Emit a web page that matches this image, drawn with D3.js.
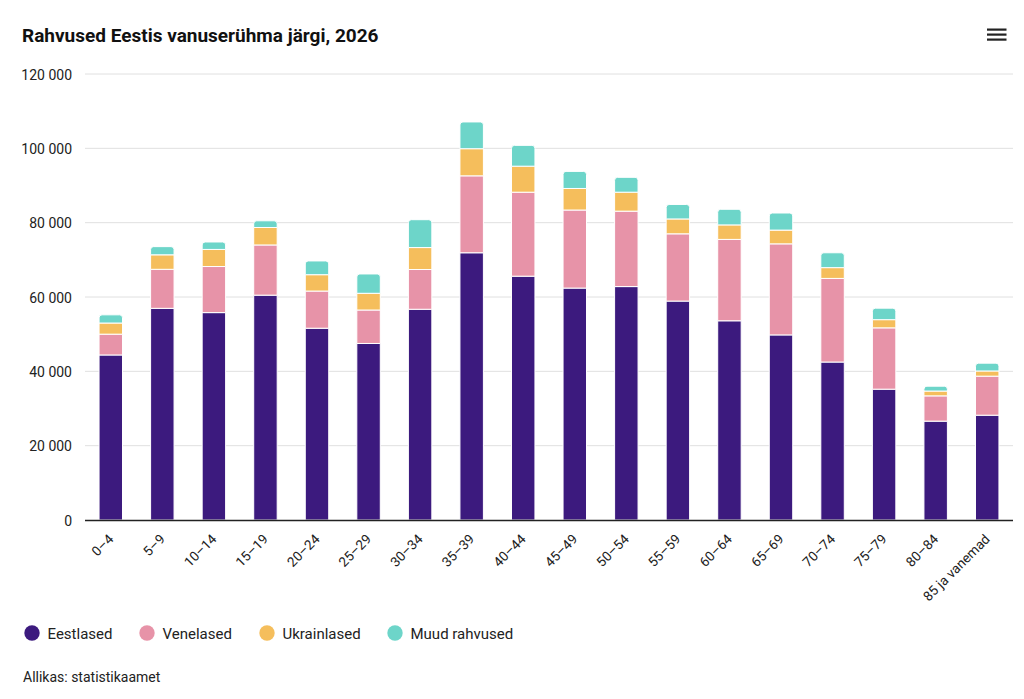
<!DOCTYPE html>
<html>
<head>
<meta charset="utf-8">
<script src="https://cdn.jsdelivr.net/npm/d3@7"></script>
<style>
  body { margin: 0; background: #fff; font-family: Roboto, "Noto Sans", sans-serif; }
  svg { display: block; }
</style>
</head>
<body>
<svg id="chart" width="1024" height="699"></svg>
<script>
// Data (people)
const ageGroups = ['0–4', '5–9', '10–14', '15–19', '20–24', '25–29', '30–34', '35–39', '40–44',
  '45–49', '50–54', '55–59', '60–64', '65–69', '70–74', '75–79', '80–84', '85 ja vanemad'];
const seriesNames = ['Eestlased', 'Venelased', 'Ukrainlased', 'Muud rahvused'];
const colors = ['#3c1a7e', '#e793a8', '#f5be5c', '#6dd5c9'];

const eestlased   = [44400, 56950, 55800, 60500, 51600, 47500, 56700, 71900, 65600, 62400, 62800, 58900, 53600, 49800, 42500, 35200, 26600, 28200];
const venelased   = [5600, 10500, 12400, 13500, 10000, 9000, 10700, 20700, 22600, 21000, 20300, 18100, 21900, 24500, 22500, 16500, 6800, 10500];
const ukrainlased = [3000, 3900, 4600, 4700, 4400, 4500, 5900, 7300, 7000, 5800, 5100, 4000, 3900, 3700, 2900, 2200, 1300, 1400];
const muud        = [2200, 2200, 2000, 1800, 3700, 5200, 7500, 7200, 5600, 4600, 4000, 3900, 4200, 4600, 4000, 3100, 1300, 2100];
const yTicks = [0, 20000, 40000, 60000, 80000, 100000, 120000];

const rows = ageGroups.map((g, i) => ({
  group: g,
  'Eestlased': eestlased[i],
  'Venelased': venelased[i],
  'Ukrainlased': ukrainlased[i],
  'Muud rahvused': muud[i]
}));

const svg = d3.select('#chart');
const margin = { left: 85, right: 11, top: 74, bottom: 179 };
const width = 1024 - margin.left - margin.right;
const height = 699 - margin.top - margin.bottom;

const x = d3.scaleBand().domain(ageGroups).range([0, width]).paddingInner(0.545).paddingOuter(0.2725);
const y = d3.scaleLinear().domain([0, 120000]).range([height, 0]);
const color = d3.scaleOrdinal().domain(seriesNames).range(colors);

// Title
svg.append('text')
  .attr('x', 22).attr('y', 42)
  .attr('font-size', 19).attr('font-weight', 700).attr('fill', '#111')
  .text('Rahvused Eestis vanuserühma järgi, 2026');

// Menu icon
[0, 5, 10].forEach(dy => {
  svg.append('rect').attr('x', 987).attr('y', 28.5 + dy).attr('width', 19.5).attr('height', 2.2).attr('fill', '#222');
});

const g = svg.append('g').attr('transform', `translate(${margin.left},${margin.top})`);

// Grid lines
g.append('g')
  .selectAll('line')
  .data(yTicks.filter(d => d > 0))
  .enter().append('line')
  .attr('x1', 0).attr('x2', width)
  .attr('y1', d => y(d)).attr('y2', d => y(d))
  .attr('stroke', '#e0e0e0').attr('stroke-width', 1);

// Y axis labels
const fmt = d => d3.format(',')(d).replace(/,/g, ' ');
g.append('g')
  .selectAll('text')
  .data(yTicks)
  .enter().append('text')
  .attr('x', -13).attr('y', d => y(d) + 5.5)
  .attr('text-anchor', 'end')
  .attr('font-size', 14).attr('fill', '#222')
  .text(fmt);

// Stacked bars
const stacked = d3.stack().keys(seriesNames)(rows);
const r = 3;
stacked.forEach((layer, li) => {
  const isTop = li === stacked.length - 1;
  const lg = g.append('g').attr('fill', color(layer.key));
  lg.selectAll('path')
    .data(layer)
    .enter().append('path')
    .attr('stroke', '#fff').attr('stroke-width', 1)
    .attr('d', d => {
      const x0 = x(d.data.group), w = x.bandwidth();
      const yTop = y(d[1]), yBot = y(d[0]);
      if (!isTop) return `M${x0},${yBot}V${yTop}H${x0 + w}V${yBot}Z`;
      return `M${x0},${yBot}V${yTop + r}Q${x0},${yTop} ${x0 + r},${yTop}H${x0 + w - r}Q${x0 + w},${yTop} ${x0 + w},${yTop + r}V${yBot}Z`;
    });
});

// X axis
g.append('line')
  .attr('x1', 0).attr('x2', width)
  .attr('y1', height + 0.5).attr('y2', height + 0.5)
  .attr('stroke', '#222').attr('stroke-width', 1.5);

g.append('g')
  .selectAll('text')
  .data(ageGroups)
  .enter().append('text')
  .attr('transform', d => `translate(${x(d) + x.bandwidth() / 2 + 3.5},${height + 20}) rotate(-45)`)
  .attr('text-anchor', 'end')
  .attr('font-size', 13.5).attr('fill', '#222')
  .text(d => d);

// Legend
const legendX = [32, 147, 267, 395];
const legend = svg.append('g');
seriesNames.forEach((name, i) => {
  legend.append('circle')
    .attr('cx', legendX[i]).attr('cy', 633).attr('r', 7.7)
    .attr('fill', colors[i]);
  legend.append('text')
    .attr('x', legendX[i] + 15.5).attr('y', 639)
    .attr('font-size', 15).attr('fill', '#222')
    .text(name);
});

// Source
svg.append('text')
  .attr('x', 23).attr('y', 682)
  .attr('font-size', 14).attr('fill', '#222')
  .text('Allikas: statistikaamet');
</script>
</body>
</html>
